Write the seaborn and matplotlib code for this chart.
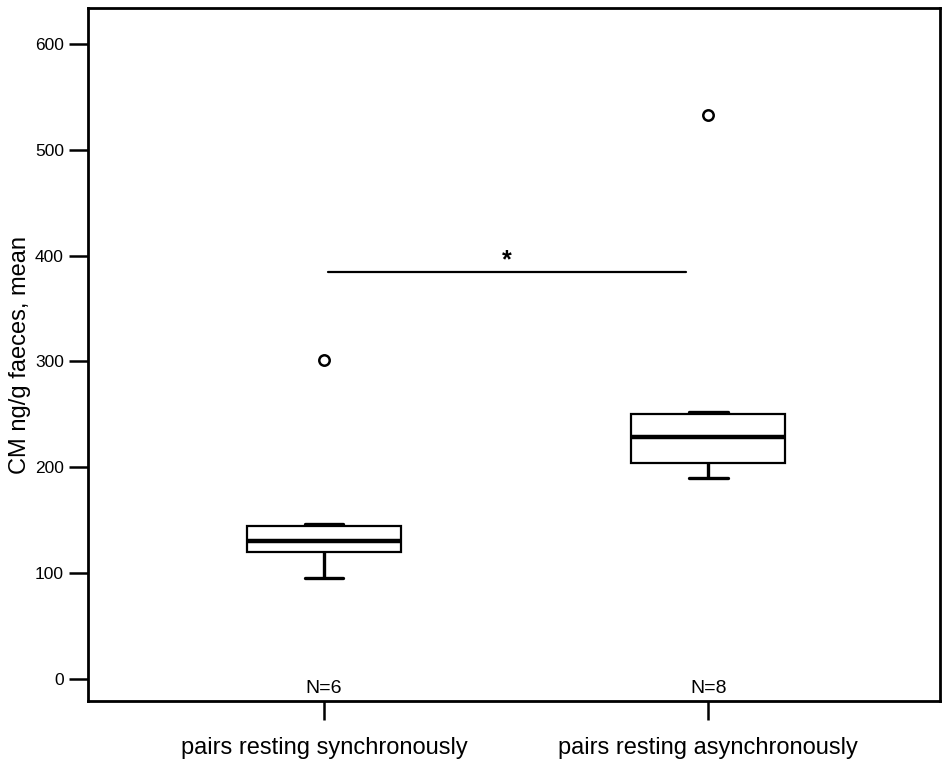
import matplotlib
matplotlib.use("Agg")
import matplotlib.pyplot as plt
import seaborn as sns
import pandas as pd
import numpy as np

# Data
categories = ["pairs resting synchronously", "pairs resting asynchronously"]
sync_values = [95, 120, 120, 140.4, 146.4, 301]
async_values = [189.6, 199, 206, 225, 233, 249.6, 252.4, 533]
n_labels = ["N=6", "N=8"]
y_ticks = [0, 100, 200, 300, 400, 500, 600]
sig_level = 385
sig_label = "*"
y_label = "CM ng/g faeces, mean"

df = pd.DataFrame({
    "group": [categories[0]] * len(sync_values) + [categories[1]] * len(async_values),
    "value": sync_values + async_values,
})

sns.set_style("ticks")
plt.rcParams["font.family"] = ["Liberation Sans", "DejaVu Sans"]
plt.rcParams["text.color"] = "black"
plt.rcParams["axes.labelcolor"] = "black"
plt.rcParams["xtick.color"] = "black"
plt.rcParams["ytick.color"] = "black"

fig = plt.figure(figsize=(9.43, 7.61), dpi=100)
ax = fig.add_axes([0.0928, 0.0788, 0.9045, 0.9107])

sns.boxplot(
    data=df, x="group", y="value", order=categories, ax=ax,
    color="white", linecolor="black", linewidth=1.6, width=0.40,
    fliersize=7.5,
    flierprops=dict(marker="o", markerfacecolor="none", markeredgecolor="black",
                    markeredgewidth=1.8),
    medianprops=dict(linewidth=3.2, color="black"),
    capprops=dict(linewidth=2.4, color="black"),
    whiskerprops=dict(linewidth=2.4, color="black"),
    capwidths=0.1,
)

ax.set_xlim(-0.615, 1.604)
ax.set_ylim(-20.8, 634)
ax.set_yticks(y_ticks)
ax.set_yticklabels([str(t) for t in y_ticks], fontsize=12.5)
ax.set_xticks([0, 1])
ax.set_xticklabels(categories, fontsize=17)
ax.set_xlabel("")
ax.set_ylabel(y_label, fontsize=17, labelpad=3)
ax.tick_params(axis="both", which="major", direction="out", length=14, width=1.8,
               color="black", left=True, bottom=True)
ax.tick_params(axis="x", pad=12)
ax.tick_params(axis="y", pad=3)
for s in ax.spines.values():
    s.set_visible(True)
    s.set_linewidth(2)
    s.set_color("black")

# N labels
for i, lab in enumerate(n_labels):
    ax.text(i, -8.5, lab, ha="center", va="center", fontsize=14)

# significance line
ax.plot([0.01, 0.942], [sig_level, sig_level], color="black", linewidth=1.6)
ax.text(0.476, sig_level + 11, sig_label, ha="center", va="center", fontsize=18,
        fontweight="bold")

fig.savefig("out.png", dpi=100)
